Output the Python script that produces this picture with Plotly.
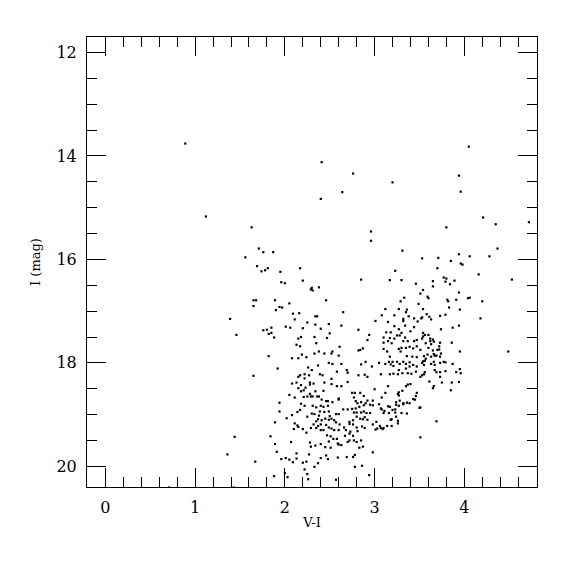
import plotly.graph_objects as go

# Colour index V-I and I magnitude of each star
v_i = [
 0.89,1.12,1.63,1.71,
 2.41,2.76,3.20,2.64,2.40,2.96,2.96,
 4.05,3.94,3.96,4.21,4.35,3.80,4.72,4.37,
 1.76,1.87,1.56,1.69,1.81,1.78,1.74,1.95,2.17,1.96,2.00,1.65,1.68,1.65,1.89,2.05,1.94,1.97,1.90,2.09,2.16,1.39,2.11,2.01,2.06,1.85,1.80,1.76,1.85,1.82,1.46,1.88,2.15,2.13,1.82,2.08,2.15,
 3.31,3.23,2.85,3.17,3.30,3.46,2.20,2.30,2.29,2.31,2.38,2.46,3.33,3.29,3.49,2.65,3.12,3.27,3.36,3.35,3.08,3.22,3.38,3.32,3.44,3.32,3.01,3.15,3.48,2.25,2.34,2.36,2.34,2.49,2.63,2.20,2.40,2.82,3.22,3.27,3.34,3.44,2.50,3.13,3.18,3.30,3.40,2.94,2.18,2.33,2.47,2.92,3.10,3.17,3.22,3.25,3.28,3.34,3.37,3.32,3.44,3.47,3.15,3.10,3.19,2.35,2.17,2.61,2.87,2.82,2.84,2.38,2.44,2.53,2.52,2.60,2.19,2.24,2.33,3.10,3.14,3.17,3.27,3.30,3.29,3.35,3.39,3.43,3.47,3.36,3.42,3.47,
 3.94,4.06,4.28,3.53,3.71,3.85,3.96,3.98,3.70,4.16,4.53,3.77,3.80,3.79,3.65,3.89,3.84,3.65,3.54,3.51,3.94,3.59,3.60,3.81,3.82,3.91,4.04,4.06,4.20,3.83,3.95,3.54,3.58,3.61,3.79,3.73,3.52,3.53,3.63,4.18,3.94,3.87,3.74,3.54,3.56,3.60,3.54,3.53,3.62,3.65,3.62,3.66,3.57,3.63,3.73,3.86,3.72,3.60,3.70,3.51,3.65,3.72,3.95,4.49,3.59,3.66,3.69,3.74,3.55,3.57,3.63,3.67,3.73,
 3.54,3.56,3.53,3.55,3.63,3.66,3.67,3.73,3.77,3.79,3.87,3.67,3.69,3.73,3.79,3.95,3.91,3.96,3.56,3.55,3.53,3.51,3.73,3.61,3.75,3.86,3.94,3.66,3.65,3.85,3.51,3.69,3.51,
 1.92,1.65,2.15,2.08,2.13,2.15,2.05,2.11,1.94,2.14,1.94,2.08,2.02,1.89,2.11,2.14,2.15,2.10,1.44,1.84,2.07,1.89,1.91,1.36,2.13,1.96,2.01,2.05,2.09,2.13,1.67,2.00,1.88,2.03,
 2.49,2.53,2.37,2.63,2.26,2.85,2.90,2.97,3.05,3.12,3.16,3.20,3.25,3.32,3.39,3.18,3.21,3.28,3.35,3.43,3.47,3.39,3.35,3.27,3.31,3.37,3.41,3.21,3.17,3.46,3.26,
 2.22,2.17,2.27,2.30,2.22,2.39,2.42,2.58,2.69,2.70,2.82,2.89,2.92,3.07,2.52,2.44,2.28,2.32,2.23,2.28,2.52,2.58,2.63,2.70,2.18,2.21,2.18,2.34,2.28,2.21,2.25,2.29,2.31,2.36,2.38,2.43,2.18,2.41,2.48,2.53,2.60,2.75,2.78,2.84,2.88,2.92,2.98,
 2.77,2.79,2.81,2.85,2.88,2.90,2.95,2.98,3.05,3.08,3.15,3.20,3.24,3.27,3.27,3.24,3.28,3.32,3.36,3.39,3.45,3.46,3.47,3.35,3.37,3.40,3.31,3.26,
 3.23,3.30,3.36,3.26,3.26,3.19,3.14,3.10,3.06,3.03,2.98,3.02,
 2.65,2.70,2.75,2.77,2.80,2.85,2.88,2.91,2.95,2.83,2.79,2.84,2.87,2.92,2.89,2.80,2.76,2.72,2.72,2.76,2.80,2.86,2.89,2.81,2.73,2.72,2.67,2.76,2.77,2.80,2.72,2.70,2.85,2.87,2.83,2.98,2.78,2.76,2.69,2.60,2.63,2.59,2.59,2.48,2.46,2.40,2.37,2.33,2.24,2.27,2.28,2.29,2.34,2.40,2.45,2.51,2.54,2.58,2.51,2.47,2.49,2.43,2.40,2.37,2.35,2.29,2.24,2.20,2.32,2.40,2.46,2.49,2.52,2.55,2.60,2.61,2.66,2.68,2.57,2.55,2.52,2.49,2.45,2.41,2.37,2.35,2.25,2.30,2.33,2.38,2.39,2.44,2.49,2.50,2.57,2.60,2.31,2.35,2.40,2.43,2.48,2.22,2.17,2.60,2.46,
 2.20,2.22,2.25,2.26,2.57,2.78,2.86,2.94,
 3.07,3.10,3.16,3.18,3.24,3.07,3.01,3.00,3.12,3.08,3.15,
 3.11,3.17,3.23,3.27,3.32,3.43,3.19,3.09,3.50,
 0.71,1.43
]
i_mag = [
 13.76,15.17,15.38,15.79,
 14.12,14.34,14.51,14.70,14.83,15.46,15.64,
 13.82,14.38,14.69,15.19,15.32,15.38,15.28,15.79,
 15.86,15.86,15.96,16.13,16.17,16.21,16.23,16.24,16.17,16.44,16.46,16.79,16.79,16.90,16.79,16.85,16.92,16.93,16.98,17.05,17.04,17.15,17.16,17.30,17.32,17.32,17.36,17.37,17.42,17.44,17.46,17.51,17.53,17.65,17.87,17.91,17.91,
 15.83,16.22,16.39,16.40,16.40,16.47,16.41,16.55,16.58,16.60,16.54,16.79,16.74,16.81,16.86,17.02,16.96,16.96,16.97,17.02,17.08,17.08,17.10,17.15,17.14,17.19,17.19,17.21,17.20,17.22,17.10,17.10,17.26,17.25,17.28,17.33,17.34,17.36,17.29,17.35,17.28,17.31,17.43,17.41,17.41,17.42,17.39,17.46,17.50,17.50,17.52,17.56,17.51,17.52,17.53,17.47,17.47,17.51,17.58,17.58,17.58,17.56,17.58,17.61,17.62,17.62,17.68,17.69,17.72,17.76,17.75,17.78,17.82,17.78,17.82,17.86,17.84,17.89,17.82,17.73,17.78,17.88,17.73,17.71,17.78,17.71,17.69,17.72,17.68,17.87,17.88,17.89,
 15.90,15.94,15.94,15.98,15.97,16.03,16.08,16.10,16.17,16.29,16.39,16.35,16.37,16.43,16.42,16.41,16.48,16.52,16.59,16.66,16.64,16.72,16.75,16.78,16.81,16.78,16.75,16.74,16.81,16.93,16.97,16.96,17.06,17.11,17.07,17.09,17.14,17.12,17.16,17.14,17.28,17.32,17.35,17.42,17.46,17.46,17.49,17.53,17.53,17.55,17.58,17.59,17.62,17.64,17.61,17.61,17.68,17.71,17.75,17.75,17.76,17.74,17.78,17.78,17.84,17.83,17.86,17.82,17.87,17.92,17.88,17.86,17.88,
 17.97,17.96,18.00,18.04,18.02,17.98,18.04,18.00,17.98,17.99,18.02,18.14,18.18,18.18,18.16,18.12,18.18,18.20,18.18,18.22,18.24,18.27,18.27,18.36,18.38,18.38,18.37,18.45,18.49,18.53,18.86,19.13,19.44,
 18.11,18.25,18.27,18.40,18.38,18.49,18.62,18.67,18.77,18.95,18.94,19.01,19.07,19.15,19.17,19.21,19.24,19.28,19.43,19.42,19.53,19.57,19.72,19.77,19.75,19.86,19.84,19.87,19.92,19.85,19.91,20.13,20.19,20.21,
 18.00,18.02,18.05,18.02,18.09,18.03,17.98,18.07,18.00,18.02,17.98,17.98,17.98,17.98,17.99,18.03,18.06,18.02,18.02,18.04,18.07,18.07,18.11,18.14,18.20,18.20,18.21,18.21,18.22,18.17,18.22,
 18.22,18.24,18.24,18.14,18.30,18.22,18.24,18.17,18.14,18.19,18.24,18.23,18.27,18.22,18.31,18.38,18.38,18.40,18.48,18.42,18.41,18.45,18.45,18.37,18.43,18.53,18.55,18.55,18.60,18.66,18.65,18.65,18.65,18.65,18.65,18.54,18.79,18.71,18.74,18.76,18.71,18.58,18.58,18.58,18.64,18.73,18.73,
 18.67,18.74,18.78,18.76,18.82,18.78,18.81,18.82,18.80,18.90,18.84,18.91,18.81,18.57,18.63,18.76,18.73,18.80,18.77,18.78,18.71,18.64,18.58,18.45,18.42,18.41,18.54,18.60,
 18.96,18.97,18.98,19.12,19.17,19.22,19.22,19.26,19.22,19.27,19.19,19.14,
 18.90,18.90,18.89,18.96,18.96,18.96,18.94,18.97,18.97,18.85,18.88,19.08,19.09,19.10,19.05,19.04,19.11,19.14,19.18,19.19,19.25,19.23,19.26,19.32,19.33,19.37,19.41,19.41,19.50,19.53,19.50,19.53,19.50,19.62,19.64,19.73,19.78,19.82,19.82,19.58,19.59,19.56,19.83,19.86,19.79,19.84,19.94,20.01,19.91,19.77,19.54,19.62,19.60,19.57,19.63,19.64,19.47,19.47,19.42,19.40,19.52,19.30,19.30,19.22,19.26,19.26,19.35,19.28,19.19,19.19,19.20,19.25,19.27,19.30,19.30,19.19,19.25,19.30,19.15,19.11,19.08,19.10,19.08,19.11,19.09,19.13,19.04,18.98,18.99,19.02,18.94,18.95,18.94,19.03,18.99,18.99,18.83,18.86,18.83,18.85,18.83,18.83,18.91,18.69,18.74,
 19.93,20.06,20.15,20.25,20.26,20.01,19.99,20.17,
 18.88,18.97,18.97,19.10,19.04,19.26,19.29,18.51,18.58,18.67,18.45,
 18.93,18.85,18.90,18.83,18.78,18.70,19.09,19.28,18.87,
 20.41,20.41
]

x_ticks = [0, 1, 2, 3, 4]
y_ticks = [12, 14, 16, 18, 20]

fig = go.Figure(go.Scatter(
    x=v_i, y=i_mag, mode="markers",
    marker=dict(symbol="square", size=2.2, color="black", line=dict(width=0)),
    showlegend=False, hoverinfo="skip"))

font = dict(family="DejaVu Serif", color="black")
axis_common = dict(showgrid=False, zeroline=False, showline=True, mirror="allticks",
                   linecolor="black", linewidth=1, ticks="inside", ticklen=19,
                   tickwidth=1, tickcolor="black", tickfont=dict(size=16, **font))

fig.update_xaxes(range=[-0.205, 4.81], tickvals=x_ticks,
                 minor=dict(dtick=0.2, tick0=0, ticks="inside", ticklen=10, tickcolor="black", tickwidth=1),
                 title=dict(text="V-I", font=dict(size=13, **font), standoff=1),
                 ticklabelstandoff=6, **axis_common)
fig.update_yaxes(range=[20.4, 11.7], tickvals=y_ticks,
                 minor=dict(dtick=0.5, tick0=12, ticks="inside", ticklen=10, tickcolor="black", tickwidth=1),
                 title=dict(text="I (mag)", font=dict(size=13, **font), standoff=12),
                 ticklabelstandoff=6, **axis_common)

fig.update_layout(width=575, height=575, margin=dict(l=79, r=46, t=29, b=96),
                  plot_bgcolor="white", paper_bgcolor="white", font=font)

fig.write_html("out.html")
